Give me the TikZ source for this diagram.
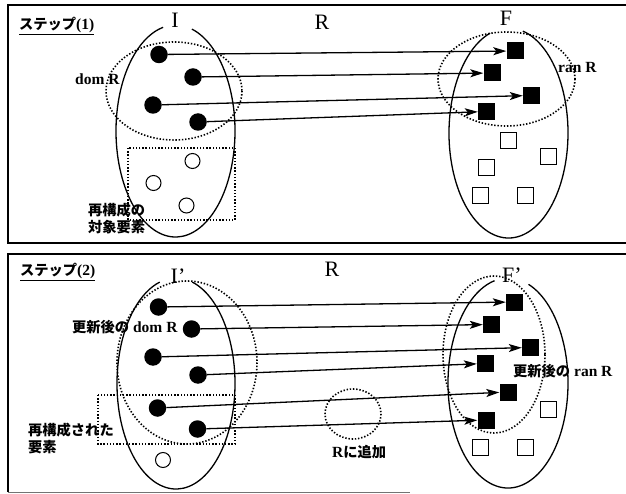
\documentclass[tikz,border=0pt]{standalone}
\usepackage{fontspec}
\setmainfont{Liberation Serif}
\newfontfamily\jpfont[Scale=0.92]{Noto Sans CJK JP}
\usetikzlibrary{arrows.meta}

\tikzset{
  setline/.style={line width=1.3pt},
  domline/.style={line width=1.6pt, dash pattern=on 1.4pt off 1.8pt},
  boxline/.style={line width=1.5pt, dash pattern=on 1.4pt off 1.8pt},
  dot/.style={circle, fill=black, minimum size=17.5pt, inner sep=0pt},
  hollowdot/.style={circle, draw, line width=1pt, minimum size=15pt, inner sep=0pt},
  fullsq/.style={rectangle, fill=black, minimum size=17pt, inner sep=0pt},
  hollowsq/.style={rectangle, draw, line width=1pt, minimum size=16pt, inner sep=0pt},
  maparrow/.style={line width=1.3pt, -{Stealth[length=13pt,width=8pt,inset=3pt]}},
  setname/.style={font=\fontsize{22}{24}\selectfont, inner sep=0pt},
  lbl/.style={font=\fontsize{15.5}{17}\selectfont\bfseries, inner sep=0pt, anchor=west, align=left},
  titlelbl/.style={font=\fontsize{15.5}{17}\selectfont\bfseries, inner sep=0pt, anchor=west},
  frame/.style={line width=1.5pt},
}

\begin{document}
\begin{tikzpicture}[x=1pt,y=-1pt]
\useasboundingbox (0,0) rectangle (626,494);

% ---------------- panel frames ----------------
\draw[frame] (626,5) -- (8,5) -- (8,243) -- (626,243);
\draw[frame] (626,254) -- (8,254) -- (8,492);
\draw[line width=1pt, black!55] (8,492) -- (410,492);

% ================= step 1 =================
\node[titlelbl] (title1) at (19,26) {\underline{{\jpfont ステップ}(1)}};

% set I (open at the top for its name)
\draw[setline] (175.5,131) ++(-74:59.5 and 106)
  arc[start angle=-74, end angle=258, x radius=59.5, y radius=106];
\node[setname] (nameI) at (175,20) {I};
% set F
\draw[setline] (508.5,133) ++(-76:59.5 and 105)
  arc[start angle=-76, end angle=252, x radius=59.5, y radius=105];
\node[setname] (nameF) at (506,18) {F};
\node[setname] (nameR1) at (322,22) {R};

% domain and range
\draw[domline] (174,91) ellipse[x radius=68, y radius=49];
\draw[domline] (506.5,79) ellipse[x radius=68.5, y radius=47];
\node[lbl] (domlbl) at (75,79) {dom R};
\node[lbl] (ranlbl) at (558,68) {ran R};

% elements to be reorganised
\draw[boxline] (128,148) rectangle (235,220);
\node[lbl] (reclbl) at (88,219) {\jpfont 再構成の\\\jpfont 対象要素};

% elements of I
\node[dot] (a1) at (159,54.5) {};
\node[dot] (a2) at (193,77) {};
\node[dot] (a3) at (153,105) {};
\node[dot] (a4) at (198,122) {};
\node[hollowdot] (c1) at (192.5,161) {};
\node[hollowdot] (c2) at (153.5,183) {};
\node[hollowdot] (c3) at (186.5,205.5) {};

% elements of F
\node[fullsq] (b1) at (515,51) {};
\node[fullsq] (b2) at (492,73) {};
\node[fullsq] (b3) at (531.5,95.5) {};
\node[fullsq] (b4) at (486.5,111.5) {};
\node[hollowsq] (e1) at (508.5,140.5) {};
\node[hollowsq] (e2) at (548.5,157) {};
\node[hollowsq] (e3) at (486.5,168) {};
\node[hollowsq] (e4) at (480.5,195.5) {};
\node[hollowsq] (e5) at (525.5,195.5) {};

\draw[maparrow] (a1) -- (b1);
\draw[maparrow] (a2) -- (b2);
\draw[maparrow] (a3) -- (b3);
\draw[maparrow] (a4) -- (b4);

% ================= step 2 =================
\node[titlelbl] (title2) at (20,272) {\underline{{\jpfont ステップ}(2)}};

\draw[setline] (176,383.5) ++(-74:59 and 105.5)
  arc[start angle=-74, end angle=254, x radius=59, y radius=105.5];
\node[setname] (nameI2) at (178,276) {I’};
\draw[setline] (508,383) ++(-70:60 and 105)
  arc[start angle=-70, end angle=257, x radius=60, y radius=105];
\node[setname] (nameF2) at (512,275) {F’};
\node[setname] (nameR2) at (332,269) {R};

% updated domain and range
\draw[domline] (187,362.5) ellipse[x radius=70, y radius=81.5];
\draw[domline] (494,354.5) ellipse[x radius=51, y radius=78.5];
\node[lbl] (domlbl2) at (72,327) {{\jpfont 更新後の} dom R};
\node[lbl] (ranlbl2) at (513,371) {{\jpfont 更新後の} ran R};

% reorganised elements
\draw[boxline] (98,395) rectangle (235,444);
\node[lbl] (reclbl2) at (28,438.5) {\jpfont 再構成された\\\jpfont 要素};

% pairs added to R
\draw[domline] (353,414) ellipse[x radius=28, y radius=25];
\node[lbl] (addlbl) at (332,452) {R{\jpfont に追加}};

% elements of I'
\node[dot] (p1) at (158.5,307) {};
\node[dot] (p2) at (191.5,329) {};
\node[dot] (p3) at (153,357) {};
\node[dot] (p4) at (198,375) {};
\node[dot] (p5) at (157.5,408) {};
\node[dot] (p6) at (197.5,429) {};
\node[hollowdot] (r1) at (163,460) {};

% elements of F'
\node[fullsq] (q1) at (514.5,302) {};
\node[fullsq] (q2) at (491.5,324.5) {};
\node[fullsq] (q3) at (530.5,347.5) {};
\node[fullsq] (q4) at (485.5,363.5) {};
\node[fullsq] (q5) at (508,392) {};
\node[fullsq] (q6) at (486,420) {};
\node[hollowsq] (t1) at (548.5,409) {};
\node[hollowsq] (t2) at (480.5,447) {};
\node[hollowsq] (t3) at (525,447) {};

\draw[maparrow] (p1) -- (q1);
\draw[maparrow] (p2) -- (q2);
\draw[maparrow] (p3) -- (q3);
\draw[maparrow] (p4) -- (q4);
\draw[maparrow] (p5) -- (q5);
\draw[maparrow] (p6) -- (q6);
\end{tikzpicture}
\end{document}
